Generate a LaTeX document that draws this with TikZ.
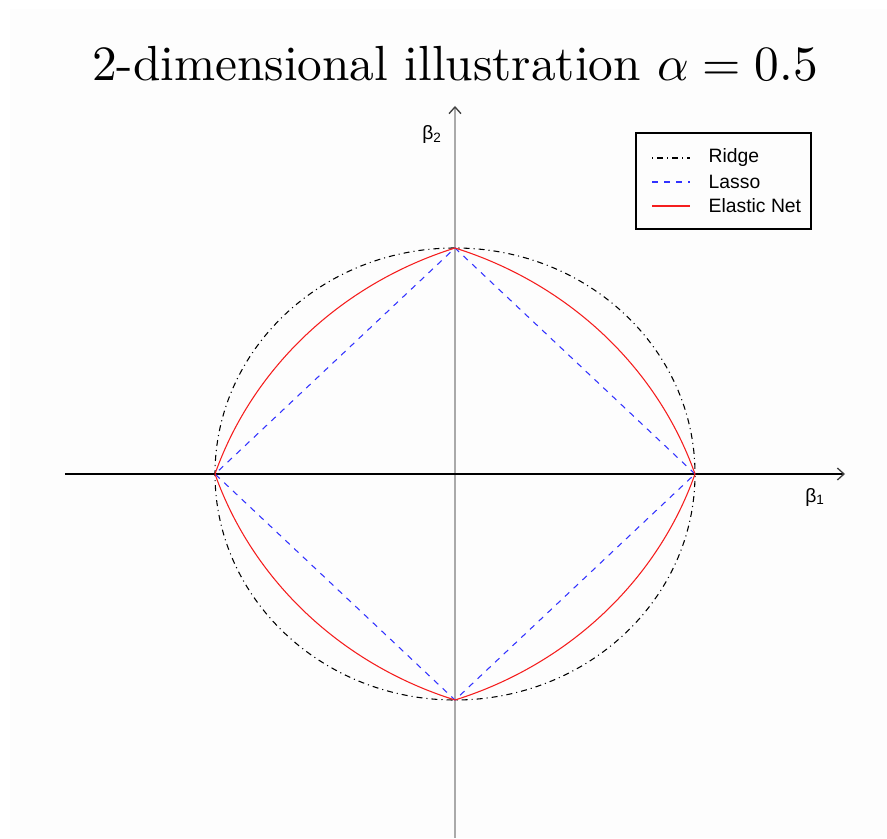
\documentclass[tikz,border=0pt]{standalone}
\usepackage{fontspec}
\usepackage{graphicx}
\newfontfamily\arialfont{Liberation Sans}
\usetikzlibrary{arrows.meta,positioning}
\definecolor{lassoblue}{RGB}{50,50,255}
\definecolor{enetred}{RGB}{245,30,30}
\definecolor{axisgray}{RGB}{170,170,170}

\begin{document}
\begin{tikzpicture}[x=0.75pt,y=0.75pt,
  ridge/.style={black,line width=0.8pt,dash pattern=on 0.8pt off 3pt on 4.5pt off 3pt},
  lasso/.style={lassoblue,line width=0.8pt,dash pattern=on 4.5pt off 4.5pt},
  enet/.style={enetred,line width=0.8pt},
  tip/.style={-{Straight Barb[length=5pt,width=9pt,line width=1pt,color=black!75]}},
  lab/.style={font=\arialfont\fontsize{14.5}{16}\selectfont}
]
\useasboundingbox (-455,-364) rectangle (432,474);
\fill[black!0.6] (-445,-364) rectangle (432,465);

% title
\node (title) at (0,410) {\scalebox{3.7}{2-dimensional illustration $\alpha=0.5$}};

% axes
\coordinate (xl) at (-390,0);
\coordinate (xr) at (390,0);
\coordinate (yb) at (0,-364);
\coordinate (yt) at (0,368);
\draw[axisgray,line width=2pt,tip] (yb) -- (yt);
\draw[black,line width=1.1pt,tip] (xl) -- (xr);
\node[lab] (b2) at (-23,339) {β\textsubscript{2}};
\node[lab] (b1) at (360,-23) {β\textsubscript{1}};

% constraint regions
\draw[ridge] (0,0) ellipse [x radius=240,y radius=226];
\draw[lasso] (240,0) -- (0,226) -- (-240,0) -- (0,-226) -- cycle;
\foreach \a/\px/\py in {0/240/0,90/0/226,180/-240/0,270/0/-226}
  \draw[enet] (\px,\py) arc[start angle=\a+18.435,end angle=\a+71.565,x radius=379.47,y radius=357.33];

% legend
\node[draw,line width=0.8pt,minimum width=131.25pt,minimum height=72pt,inner sep=0pt] (legend) at (268.5,293) {};
\draw[ridge] (197,316) -- (235,316);
\node[lab,anchor=west] (lridge) at (249,316) {Ridge};
\draw[lasso] (197,292) -- (235,292);
\node[lab,anchor=west] (llasso) at (249,292) {Lasso};
\draw[enet] (197,268) -- (235,268);
\node[lab,anchor=west] (lenet) at (249,268) {Elastic Net};
\end{tikzpicture}
\end{document}
